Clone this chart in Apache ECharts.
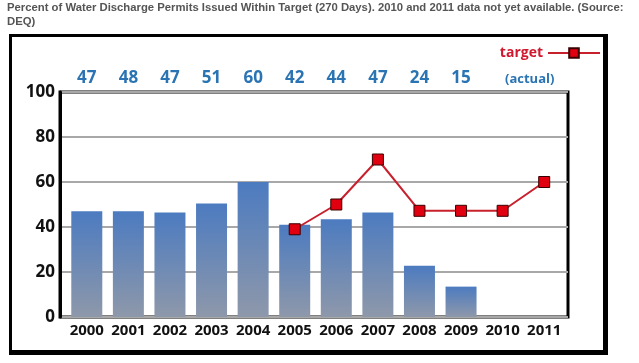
<!DOCTYPE html>
<html>
<head>
<meta charset="utf-8">
<script src="https://cdn.jsdelivr.net/npm/echarts@6/dist/echarts.min.js"></script>
<style>html,body{margin:0;padding:0;background:#fff;}#c{width:639px;height:363px;}</style>
</head>
<body>
<div id="c"></div>
<script>
var categories = ['2000','2001','2002','2003','2004','2005','2006','2007','2008','2009','2010','2011'];
var actualBars = [47, 47, 46.4, 50.5, 60, 41, 43.4, 46.4, 22.8, 13.5, null, null];
var actualLabels = ['47','48','47','51','60','42','44','47','24','15','',''];
var targetValues = [null, null, null, null, null, 39, 50, 70, 47.2, 47.2, 47.2, 60];
var yTicks = [0, 20, 40, 60, 80, 100];

var chart = echarts.init(document.getElementById('c'));
var font = 'Open Sans';
chart.setOption({
  animation: false,
  title: {
    text: 'Percent of Water Discharge Permits Issued Within Target (270 Days). 2010 and 2011 data not yet available. (Source:\nDEQ)',
    left: 7, top: 1, padding: 0,
    textStyle: { fontFamily: 'Liberation Sans', fontWeight: 'bold', fontSize: 11.3, color: '#555', lineHeight: 14 }
  },
  legend: {
    data: ['target'], right: 38, top: 46, align: 'right', padding: 0,
    itemWidth: 52, itemHeight: 12, itemGap: 1,
    textStyle: { color: '#d0182e', fontFamily: font, fontWeight: 'bold', fontSize: 14 }
  },
  grid: [
    { left: 60, right: 71, top: 92, bottom: 46, show: true, borderColor: '#000', borderWidth: 3, containLabel: false },
    { left: 66, right: 74, top: 92, bottom: 46, containLabel: false }
  ],
  xAxis: [
    { type: 'value', gridIndex: 0, min: 0, max: 1, show: false },
    { type: 'category', gridIndex: 1, data: categories, position: 'bottom',
      axisLine: { show: false }, axisTick: { show: false },
      axisLabel: { interval: 0, margin: 6, fontFamily: font, fontWeight: 'bold', fontSize: 15, color: '#111' } },
    { type: 'category', gridIndex: 1, data: categories, position: 'top',
      axisLine: { show: false }, axisTick: { show: false },
      axisLabel: { interval: 0, margin: 5, fontFamily: font, fontWeight: 'bold', fontSize: 17, color: '#2b74b3',
        formatter: function (v, i) { return actualLabels[i]; } } }
  ],
  yAxis: [
    { type: 'value', gridIndex: 0, min: 0, max: 100, interval: 20,
      axisLine: { show: true, lineStyle: { color: '#000', width: 3 } }, axisTick: { show: false },
      splitLine: { show: true, lineStyle: { color: '#a8a8a8', width: 2 } },
      axisLabel: { margin: 5, fontFamily: font, fontWeight: 'bold', fontSize: 17, color: '#111',
        formatter: function (v) { return yTicks.indexOf(v) >= 0 ? String(v) : ''; } } },
    { type: 'value', gridIndex: 1, min: 0, max: 100, interval: 20, show: false }
  ],
  series: [
    { name: 'actual', type: 'bar', xAxisIndex: 1, yAxisIndex: 1, data: actualBars, barWidth: 31,
      itemStyle: { color: new echarts.graphic.LinearGradient(0, 0, 0, 1, [
        { offset: 0, color: '#4c7bc0' }, { offset: 1, color: '#8e98aa' }]) } },
    { name: 'target', type: 'line', xAxisIndex: 1, yAxisIndex: 1, data: targetValues,
      symbol: 'rect', symbolSize: 11, connectNulls: false,
      lineStyle: { color: '#c8202c', width: 2 },
      itemStyle: { color: '#e00010', borderColor: '#3a0000', borderWidth: 1 } }
  ],
  graphic: [
    { type: 'text', left: 505, top: 73, style: { text: '(actual)', fill: '#2b74b3', font: 'bold 13px "Open Sans"' } },
    { type: 'rect', shape: { x: 9, y: 34, width: 599, height: 3 }, style: { fill: '#000' } },
    { type: 'rect', shape: { x: 9, y: 34, width: 3, height: 321 }, style: { fill: '#000' } },
    { type: 'rect', shape: { x: 603, y: 34, width: 5, height: 321 }, style: { fill: '#000' } },
    { type: 'rect', shape: { x: 9, y: 350, width: 599, height: 5 }, style: { fill: '#000' } }
  ]
});
</script>
</body>
</html>
